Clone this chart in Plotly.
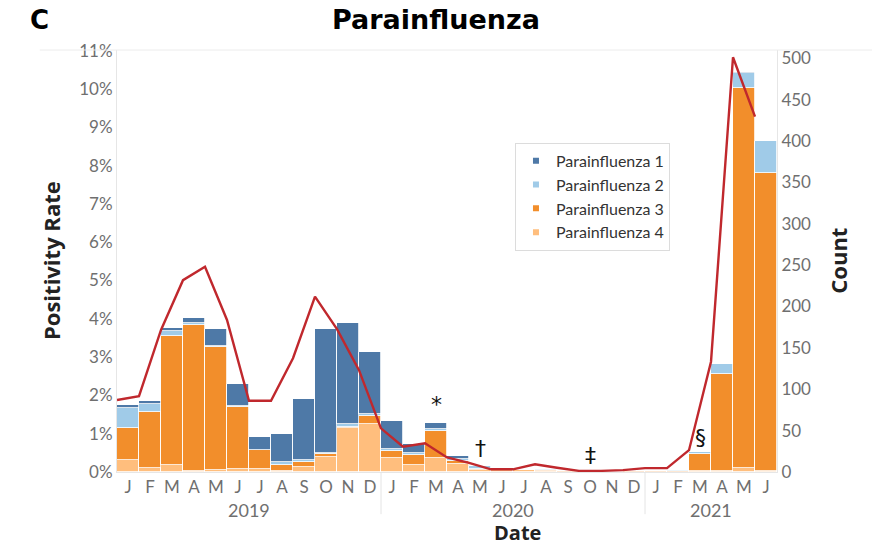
import plotly.graph_objects as go

# Monthly parainfluenza detections, Jan 2019 - Jun 2021
months = ["J", "F", "M", "A", "M", "J", "J", "A", "S", "O", "N", "D",
          "J", "F", "M", "A", "M", "J", "J", "A", "S", "O", "N", "D",
          "J", "F", "M", "A", "M", "J"]
years = ["2019", "2020", "2021"]

piv1 = [4.5, 4.3, 3, 6, 21, 26, 15, 34, 74.5, 150, 121, 74,
        34, 10, 7, 4, 0.5, 0, 0, 0, 0, 0, 0, 0,
        0, 0, 0, 0, 1.2, 0]
piv2 = [24, 10, 7, 2, 1, 1, 1, 3, 2, 0.5, 4.5, 3.2,
        2, 2.8, 2.8, 2, 3, 0.5, 0, 0.5, 0, 0, 0, 0.5,
        1, 1.5, 2, 11, 17.6, 39.4]
piv3 = [38, 67, 155, 177, 149, 75, 22, 7, 6, 4, 0.5, 8.9,
        8.5, 12, 33, 4, 1, 0.5, 0.5, 1.5, 0.3, 0, 0, 0.3,
        0.3, 1, 21, 118, 460, 360]
piv4 = [15, 5, 9, 1, 2, 4, 4, 1.5, 6, 18, 53.5, 58.5,
        17.3, 8.5, 16.5, 9.3, 3, 2, 2, 1.5, 0.5, 0.3, 0.3, 0.5,
        0.5, 0.5, 1, 1, 4.5, 1]

# Positivity rate (%) per month
rate = [1.88, 1.98, 3.71, 5.01, 5.36, 3.97, 1.86, 1.86, 2.97, 4.58, 3.73, 2.66,
        1.14, 0.66, 0.75, 0.38, 0.24, 0.07, 0.07, 0.2, 0.11, 0.03, 0.03, 0.05,
        0.1, 0.1, 0.57, 2.88, 10.83, 9.28]

# Axis ticks
rate_ticks = list(range(0, 12))
count_ticks = list(range(0, 501, 50))

# Footnote marks: (month index, count level, symbol)
marks = [(14, 82, "*"), (16, 29, "†"), (21, 20.5, "‡"), (26, 42, "§")]

series = [
    ("Parainfluenza 4", piv4, "#ffbe7d"),
    ("Parainfluenza 3", piv3, "#f28e2b"),
    ("Parainfluenza 2", piv2, "#a0cbe8"),
    ("Parainfluenza 1", piv1, "#4e79a7"),
]

idx = list(range(len(months)))
GRAY = "#6f6f6f"
TICKFONT = dict(family="Lato, Open Sans, sans-serif", size=17, color=GRAY)

fig = go.Figure()

for name, vals, col in series:
    fig.add_trace(go.Bar(
        x=idx, y=vals, name=name, showlegend=False,
        marker=dict(color=col, line=dict(color="white", width=0.8)),
        width=1, yaxis="y",
    ))

# Positivity line sits on the month boundaries
fig.add_trace(go.Scatter(
    x=[i - 0.5 for i in idx], y=rate, mode="lines", showlegend=False,
    line=dict(color="#c0282d", width=2.4), yaxis="y2",
))

# Legend entries with small square swatches (type 1 listed first)
for name, vals, col in reversed(series):
    fig.add_trace(go.Scatter(
        x=[None], y=[None], mode="markers", name=name,
        marker=dict(symbol="square", size=6, color=col), yaxis="y",
    ))

annotations = []
for i, lvl, sym in marks:
    annotations.append(dict(x=i, y=lvl, xref="x", yref="y", text=sym,
                            showarrow=False, yanchor="middle",
                            font=dict(family="DejaVu Sans", size=22, color="#111")))

# Year labels under the months
for k, yr in enumerate(years):
    first = 12 * k
    last = min(first + 11, len(months) - 1)
    annotations.append(dict(x=(first + last) / 2, y=-0.09, xref="x", yref="paper",
                            text=yr, showarrow=False, yanchor="middle",
                            font=dict(family="Lato, Open Sans, sans-serif", size=18, color=GRAY)))

# Panel letter and title
annotations += [
    dict(x=-0.118, y=1.072, xref="paper", yref="paper", text="<b>C</b>",
         showarrow=False, xanchor="center", yanchor="middle",
         font=dict(family="DejaVu Sans", size=26, color="black")),
    dict(x=0.483, y=1.072, xref="paper", yref="paper", text="<b>Parainfluenza</b>",
         showarrow=False, xanchor="center", yanchor="middle",
         font=dict(family="DejaVu Sans", size=27, color="black")),
]

# Axis titles
annotations += [
    dict(x=-0.1, y=0.5, xref="paper", yref="paper", text="<b>Positivity Rate</b>",
         textangle=-90, showarrow=False, xanchor="center", yanchor="middle",
         font=dict(family="Open Sans, Lato, sans-serif", size=22, color="#222")),
    dict(x=1.092, y=0.5, xref="paper", yref="paper", text="<b>Count</b>",
         textangle=-90, showarrow=False, xanchor="center", yanchor="middle",
         font=dict(family="Open Sans, Lato, sans-serif", size=22, color="#222")),
    dict(x=0.607, y=-0.179, xref="paper", yref="paper", text="<b>Date</b>",
         showarrow=False, xanchor="center", yanchor="bottom",
         font=dict(family="Open Sans, Lato, sans-serif", size=20, color="#222")),
]

shapes = [
    # thin rule along the top of the panel
    dict(type="line", xref="paper", yref="paper", x0=-0.117, x1=1.15, y0=1.0, y1=1.0,
         line=dict(color="#ececec", width=1)),
]
# year separators
for b in (11.5, 23.5):
    shapes.append(dict(type="line", xref="x", yref="paper", x0=b, x1=b, y0=0, y1=-0.1,
                       line=dict(color="#e4e4e4", width=1)))

fig.update_layout(
    width=872, height=549,
    margin=dict(l=117, r=95, t=50, b=77),
    paper_bgcolor="white", plot_bgcolor="white",
    barmode="stack", bargap=0,
    showlegend=True,
    legend=dict(x=0.603, y=0.78, xanchor="left", yanchor="top",
                traceorder="normal",
                bgcolor="white", bordercolor="#dcdcdc", borderwidth=1,
                font=dict(family="Lato, Open Sans, sans-serif", size=16, color="#333"),
                tracegroupgap=0, itemsizing="trace"),
    xaxis=dict(range=[-0.5, len(months) - 0.5], tickmode="array", tickvals=idx,
               ticktext=months, showgrid=False, zeroline=False, showline=True,
               linecolor="#e6e6e6", ticks="", tickfont=TICKFONT),
    yaxis=dict(side="right", range=[0, 510], tickmode="array",
               tickvals=count_ticks, ticktext=[str(v) for v in count_ticks],
               showgrid=False, zeroline=False,
               showline=True, linecolor="#e6e6e6", ticks="", tickfont=TICKFONT),
    yaxis2=dict(overlaying="y", side="left", range=[0, 11.02], tickmode="array",
                tickvals=rate_ticks, ticktext=[f"{v}%" for v in rate_ticks],
                showgrid=False, zeroline=False, showline=True, linecolor="#e6e6e6",
                ticks="", tickfont=TICKFONT),
    annotations=annotations,
    shapes=shapes,
)

fig.write_html("out.html")
